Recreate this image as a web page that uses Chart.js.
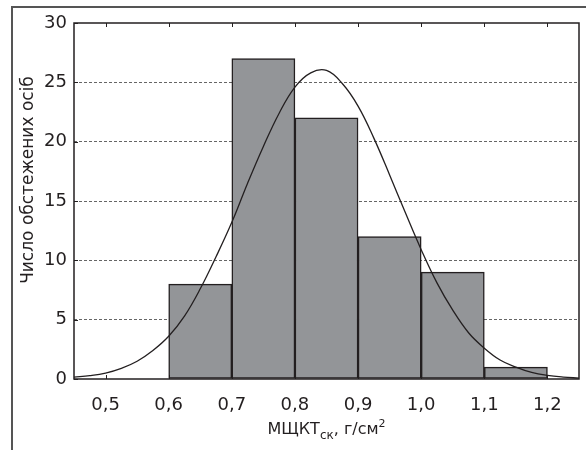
<!DOCTYPE html>
<html>
<head>
<meta charset="utf-8">
<script src="https://cdn.jsdelivr.net/npm/chart.js@4.4.1/dist/chart.umd.min.js"></script>
<style>
    html, body { margin: 0; padding: 0; background: #fff; }
    #wrap { position: relative; width: 586px; height: 450px; }
</style>
</head>
<body>
<div id="wrap"><canvas id="histChart" width="586" height="450"></canvas></div>
<script>
// histogram bins (centre of each 0.1 interval) and counts
const binCenters = [0.65, 0.75, 0.85, 0.95, 1.05, 1.15];
const counts = [8, 27, 22, 12, 9, 1];

// fitted normal curve
const curveX = [0.450, 0.475, 0.500, 0.525, 0.550, 0.575, 0.600, 0.625, 0.650, 0.675, 0.700,
                0.725, 0.750, 0.775, 0.800, 0.825, 0.850, 0.875, 0.900, 0.925, 0.950, 0.975,
                1.000, 1.025, 1.050, 1.075, 1.100, 1.125, 1.150, 1.175, 1.200, 1.225, 1.250];
const curveY = [0.15, 0.28, 0.5, 0.9, 1.5, 2.4, 3.6, 5.3, 7.6, 10.3, 13.2,
                16.5, 19.6, 22.4, 24.6, 25.8, 26.0, 24.9, 23.0, 20.3, 17.2, 14.0,
                10.9, 8.1, 5.8, 3.9, 2.6, 1.6, 1.0, 0.55, 0.3, 0.16, 0.08];

const xTicks = [0.5, 0.6, 0.7, 0.8, 0.9, 1.0, 1.1, 1.2];
const xTickLabels = ['0,5', '0,6', '0,7', '0,8', '0,9', '1,0', '1,1', '1,2'];
const yTicks = [0, 5, 10, 15, 20, 25, 30];

const FONT = '"DejaVu Sans", sans-serif';
const INK = '#231f20';

// frame, plot box, inner tick marks and axis titles
const decorPlugin = {
    id: 'decor',
    beforeDraw(chart) {
        const c = chart.ctx;
        c.save();
        c.strokeStyle = '#555';
        c.lineWidth = 2;
        c.beginPath();
        c.moveTo(12, 450);
        c.lineTo(12, 7);
        c.lineTo(586, 7);
        c.stroke();
        c.restore();
    },
    afterDatasetsDraw(chart) {
        const c = chart.ctx;
        const a = chart.chartArea;
        const xs = chart.scales.x, ys = chart.scales.y;
        c.save();
        c.strokeStyle = INK;
        c.lineWidth = 1.5;
        c.strokeRect(a.left, a.top, a.right - a.left, a.bottom - a.top);

        c.lineWidth = 1;
        c.beginPath();
        xTicks.forEach(v => {
            const px = Math.round(xs.getPixelForValue(v)) + 0.5;
            c.moveTo(px, a.bottom); c.lineTo(px, a.bottom - 4);
            c.moveTo(px, a.top); c.lineTo(px, a.top + 4);
        });
        yTicks.forEach(v => {
            const py = Math.round(ys.getPixelForValue(v)) + 0.5;
            c.moveTo(a.left, py); c.lineTo(a.left + 4, py);
        });
        c.stroke();

        // y title
        c.fillStyle = INK;
        c.font = '17px ' + FONT;
        c.textAlign = 'center';
        c.textBaseline = 'middle';
        c.save();
        c.translate(29, 180);
        c.rotate(-Math.PI / 2);
        c.fillText('Число обстежених осіб', 0, 0);
        c.restore();

        // x title with subscript / superscript
        const parts = [
            { t: 'МЩКТ', size: 16, dy: 0 },
            { t: 'ск', size: 12, dy: 5 },
            { t: ', г/см', size: 16, dy: 0 },
            { t: '2', size: 11, dy: -7 }
        ];
        let total = 0;
        parts.forEach(p => { c.font = p.size + 'px ' + FONT; p.w = c.measureText(p.t).width; total += p.w; });
        let x = (a.left + a.right) / 2 - total / 2;
        c.textAlign = 'left';
        c.textBaseline = 'alphabetic';
        parts.forEach(p => {
            c.font = p.size + 'px ' + FONT;
            c.fillText(p.t, x, 434 + p.dy);
            x += p.w;
        });
        c.restore();
    }
};

new Chart(document.getElementById('histChart'), {
    type: 'bar',
    data: {
        datasets: [
            {
                type: 'line',
                data: curveX.map((x, i) => ({ x: x, y: curveY[i] })),
                borderColor: INK,
                borderWidth: 1.3,
                pointRadius: 0,
                tension: 0.4,
                fill: false,
                order: 0
            },
            {
                type: 'bar',
                data: binCenters.map((x, i) => ({ x: x, y: counts[i] })),
                backgroundColor: '#939598',
                borderColor: INK,
                borderWidth: 1.5,
                borderSkipped: false,
                barPercentage: 1,
                categoryPercentage: 1,
                order: 1
            }
        ]
    },
    options: {
        responsive: false,
        animation: false,
        layout: { padding: { top: 23, right: 7, left: 0, bottom: 0 } },
        plugins: { legend: { display: false }, tooltip: { enabled: false } },
        scales: {
            x: {
                type: 'linear',
                offset: false,
                min: 0.45,
                max: 1.25,
                afterBuildTicks: scale => { scale.ticks = xTicks.map(v => ({ value: v })); },
                afterFit: scale => { scale.height = 71; },
                grid: { display: false, offset: false },
                border: { display: false },
                ticks: {
                    color: INK,
                    padding: 8,
                    maxRotation: 0,
                    autoSkip: false,
                    font: { family: FONT, size: 18 },
                    callback: value => xTickLabels[xTicks.indexOf(value)]
                }
            },
            y: {
                min: 0,
                max: 30,
                afterBuildTicks: scale => { scale.ticks = yTicks.map(v => ({ value: v })); },
                afterFit: scale => { scale.width = 74; },
                grid: {
                    drawTicks: false,
                    lineWidth: 1,
                    color: ctx => (ctx.tick && (ctx.tick.value === 0 || ctx.tick.value === 30)) ? 'rgba(0,0,0,0)' : '#666'
                },
                border: { display: false, dash: [3, 2] },
                ticks: {
                    color: INK,
                    padding: 7,
                    font: { family: FONT, size: 18 }
                }
            }
        }
    },
    plugins: [decorPlugin]
});
</script>
</body>
</html>
